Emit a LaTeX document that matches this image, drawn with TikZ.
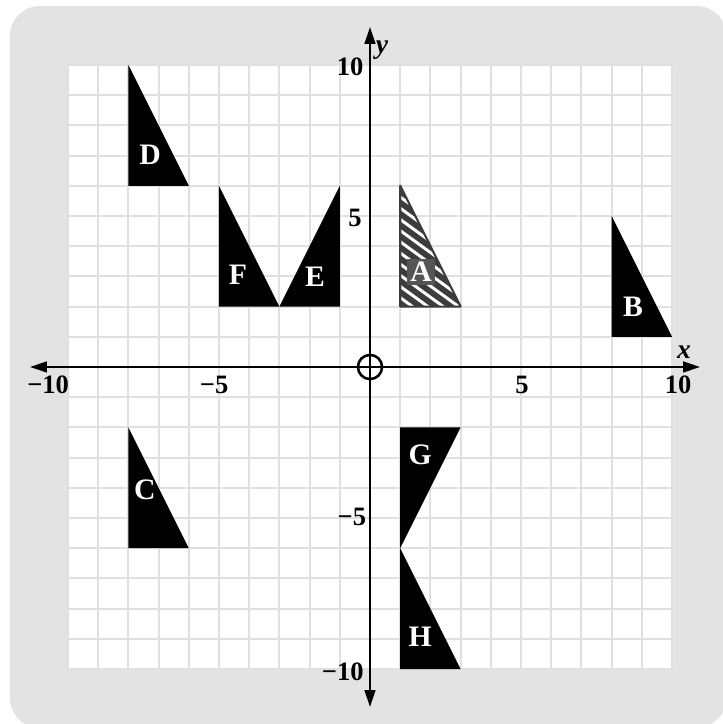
\documentclass[tikz,border=0pt]{standalone}
\usepackage{fontspec}
\setmainfont{Liberation Serif}
\usetikzlibrary{arrows.meta}
\definecolor{panelgray}{HTML}{E3E3E3}
\definecolor{gridgray}{HTML}{E0E0E0}
\definecolor{hatchgray}{HTML}{3C3C3C}
\definecolor{boxgray}{HTML}{555555}
\tikzset{
  shapelbl/.style={text=white,font=\fontsize{14}{16}\selectfont\bfseries},
  ticklbl/.style={font=\fontsize{12.5}{14}\selectfont\bfseries},
  axislbl/.style={font=\fontsize{13}{15}\selectfont\bfseries\itshape},
  axisline/.style={line width=1.2pt,{Triangle[length=8pt,width=5pt]}-{Triangle[length=8pt,width=5pt]}}
}

\begin{document}
\begin{tikzpicture}[scale=0.5]
\useasboundingbox (-12.25,-11.82) rectangle (11.66,12.15);
\fill[panelgray,rounded corners=14pt] (-11.92,-11.95) rectangle (11.8,11.95);
\fill[white] (-10,-10) rectangle (10,10);
\draw[gridgray,line width=0.9pt] (-10,-10) grid (10,10);
% solid triangles
\fill (-8,10) -- (-8,6) -- (-6,6) -- cycle;
\fill (-5,6) -- (-5,2) -- (-3,2) -- cycle;
\fill (-1,6) -- (-1,2) -- (-3,2) -- cycle;
\fill ( 8,5) -- ( 8,1) -- (10,1) -- cycle;
\fill (-8,-2) -- (-8,-6) -- (-6,-6) -- cycle;
\fill ( 1,-2) -- ( 3,-2) -- ( 1,-6) -- cycle;
\fill ( 1,-6) -- ( 1,-10) -- ( 3,-10) -- cycle;
% hatched triangle A
\fill[hatchgray] (1,6) -- (1,2) -- (3,2) -- cycle;
\begin{scope}
\clip (1,6) -- (1,2) -- (3,2) -- cycle;
\foreach \y in {2.0,2.37,...,8.6}{\draw[white,line width=1.4pt] (0.9,\y) -- (3.1,\y-1.6);}
\end{scope}
\draw[hatchgray,line width=1pt,line join=round] (1,6) -- (1,2) -- (3,2) -- cycle;
% axes
\draw[axisline] (-11.26,0) -- (10.93,0);
\draw[axisline] (0,-11.26) -- (0,11.26);
\draw[line width=1.2pt] (0,0) circle (0.4);
\node[axislbl] (xlbl) at (10.4,0.5) {x};
\node[axislbl] (ylbl) at (0.4,10.5) {y};
% tick labels
\node[ticklbl,anchor=east] (xm10) at (-9.72,-0.58) {−10};
\node[ticklbl] (xm5) at (-5.16,-0.58) {−5};
\node[ticklbl] (xp5) at ( 5.03,-0.58) {5};
\node[ticklbl] (xp10) at (10.2,-0.58) {10};
\node[ticklbl] (yp10) at (-0.66,9.95) {10};
\node[ticklbl] (yp5) at (-0.5,4.93) {5};
\node[ticklbl] (ym5) at (-0.6,-4.97) {−5};
\node[ticklbl] (ym10) at (-0.9,-10.1) {−10};
% shape labels
\node[shapelbl] (lblD) at (-7.28,7.02) {D};
\node[shapelbl] (lblF) at (-4.37,3.05) {F};
\node[shapelbl] (lblE) at (-1.82,2.98) {E};
\node[shapelbl,fill=boxgray,inner sep=1.5pt] (lblA) at (1.69,3.15) {A};
\node[shapelbl] (lblB) at (8.71,1.99) {B};
\node[shapelbl] (lblC) at (-7.45,-4.07) {C};
\node[shapelbl] (lblG) at (1.66,-2.91) {G};
\node[shapelbl] (lblH) at (1.66,-8.94) {H};
\end{tikzpicture}
\end{document}
